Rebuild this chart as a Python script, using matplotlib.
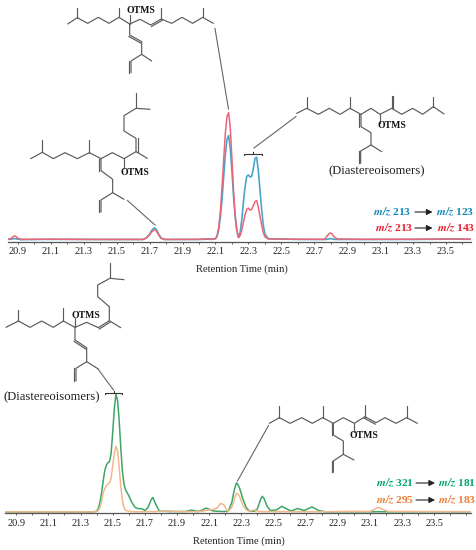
import numpy as np
import matplotlib
matplotlib.use('Agg')
import matplotlib.pyplot as plt

W, H = 477, 550
SERIF = ['Liberation Serif', 'DejaVu Serif']

# top chromatogram, heights as % of the largest peak
top_time = [20.84, 20.86, 20.87, 20.88, 20.89, 20.90, 20.92, 21.10, 21.40, 21.66, 21.68, 21.70, 21.71, 21.72,
            21.73, 21.74, 21.75, 21.76, 21.77, 21.79, 22.00, 22.05, 22.08, 22.10, 22.11, 22.12, 22.13, 22.14,
            22.15, 22.16, 22.17, 22.18, 22.19, 22.20, 22.21, 22.22, 22.23, 22.24, 22.25, 22.26, 22.27, 22.28,
            22.29, 22.30, 22.31, 22.32, 22.33, 22.34, 22.35, 22.36, 22.37, 22.38, 22.39, 22.40, 22.42, 22.60,
            22.76, 22.77, 22.78, 22.79, 22.80, 22.81, 22.82, 22.84, 23.00, 23.30, 23.55, 23.65]
blue_top = [0.5, 0.6, 0.9, 1.0, 0.9, 0.6, 0.3, 0.5, 0.4, 0.4, 1.5, 4.5, 7.0, 8.5,
            9.5, 8.5, 6.0, 3.5, 1.5, 0.4, 0.4, 0.6, 0.5, 1.0, 3.0, 8.5, 18, 32,
            50, 67, 79, 82, 72, 54, 34, 18, 7.0, 2.0, 6.0, 16, 30, 42,
            50, 51, 49.5, 50, 56, 64, 65, 55, 40, 25, 12, 5.0, 1.0, 0.4,
            0.4, 0.4, 0.6, 0.9, 1.0, 0.8, 0.5, 0.4, 0.4, 0.4, 0.7, 0.5]
red_top = [0.5, 1.2, 2.5, 3.2, 2.6, 1.3, 0.5, 0.6, 0.4, 0.4, 1.5, 4.0, 6.0, 7.0,
           8.0, 7.2, 5.0, 3.0, 1.3, 0.4, 0.5, 0.9, 0.7, 1.0, 3.0, 10, 23, 42,
           63, 84, 97, 100, 88, 64, 38, 19, 7.5, 1.8, 3.5, 8.0, 14, 20,
           24, 25, 23.5, 24, 27, 30, 31, 26, 19, 12, 6.0, 2.5, 0.8, 0.6,
           0.5, 1.5, 3.5, 5.0, 5.5, 4.5, 2.5, 0.8, 0.5, 0.6, 0.8, 0.6]

# bottom chromatogram, heights as % of the largest peak
bottom_time = [20.83, 21.20, 21.38, 21.40, 21.41, 21.42, 21.43, 21.44, 21.45, 21.46, 21.47, 21.48, 21.49, 21.50,
               21.51, 21.52, 21.53, 21.54, 21.55, 21.56, 21.57, 21.58, 21.60, 21.62, 21.64, 21.66, 21.68, 21.70,
               21.72, 21.74, 21.75, 21.77, 21.79, 21.85, 21.95, 21.99, 22.03, 22.06, 22.08, 22.10, 22.12, 22.15,
               22.17, 22.19, 22.21, 22.22, 22.24, 22.25, 22.26, 22.27, 22.28, 22.29, 22.31, 22.33, 22.35, 22.38,
               22.40, 22.42, 22.43, 22.44, 22.46, 22.48, 22.52, 22.55, 22.58, 22.61, 22.65, 22.69, 22.74, 22.78,
               22.82, 22.98, 23.10, 23.13, 23.15, 23.18, 23.21, 23.35, 23.72]
green_bot = [0.3, 0.3, 0.3, 1.0, 3.0, 8.0, 16, 26, 35, 40, 42, 43, 50, 68,
             88, 100, 95, 78, 55, 35, 24, 19, 14, 8.0, 4.0, 3.0, 3.0, 1.5,
             4.0, 11, 12.5, 6.0, 1.0, 0.6, 0.6, 1.8, 0.6, 2.0, 3.5, 2.5, 1.2, 0.8,
             0.7, 0.6, 0.6, 1.5, 8.0, 15, 21, 25, 23, 20, 11, 4.0, 1.0, 0.8,
             3.0, 11, 13.5, 12, 5.0, 1.5, 2.0, 5.0, 3.0, 1.0, 3.2, 1.5, 4.5, 1.5,
             0.4, 0.4, 0.4, 0.4, 0.5, 0.4, 0.4, 0.4, 0.4]
orange_bot = [0.3, 0.3, 0.3, 0.6, 1.5, 4.0, 9.0, 16, 20, 22, 24, 25, 29, 40,
              50, 56, 52, 38, 22, 10, 4.0, 1.5, 0.8, 0.5, 0.4, 0.4, 0.4, 0.4,
              0.6, 0.6, 0.5, 0.5, 0.8, 1.0, 0.5, 0.5, 0.5, 1.0, 1.5, 2.0, 2.2, 3.5,
              7.5, 6.5, 1.5, 1.0, 4.0, 8.0, 13, 16, 15.5, 13, 6.0, 2.0, 0.8, 2.0,
              1.0, 0.5, 0.5, 0.5, 0.5, 0.5, 0.5, 0.5, 0.5, 0.4, 0.4, 0.4, 0.4, 0.4,
              0.4, 0.8, 0.7, 2.5, 4.3, 2.5, 0.8, 0.6, 0.5]

tick_labels = ['20.9', '21.1', '21.3', '21.5', '21.7', '21.9', '22.1', '22.3', '22.5',
               '22.7', '22.9', '23.1', '23.3', '23.5']
tick_values = [float(t) for t in tick_labels]


# structure sketches, in reference pixels x3
mol_top = [[(203, 72), (232, 53), (263, 70), (295, 52), (327, 70), (357, 52), (389, 72), (420, 58), (452, 75),
            (484, 57), (515, 70), (546, 52), (578, 70), (608, 52), (640, 70)],
           [(232, 53), (232, 25)], [(357, 52), (357, 25)], [(484, 57), (484, 25)], [(608, 52), (608, 25)],
           [(389, 72), (389, 45)],
           [(389, 72), (389, 105), (425, 125), (425, 163), (455, 183)],
           [(425, 163), (393, 183), (393, 218)]]
mol_top_dbl = [[(452, 75), (484, 57)], [(389, 105), (425, 125)], [(393, 183), (393, 218)]]

mol_left = [[(92, 476), (127, 457), (160, 476), (195, 458), (232, 476), (268, 458), (303, 476), (337, 458),
             (372, 476), (408, 455), (442, 475)],
            [(127, 457), (127, 420)], [(268, 458), (268, 420)],
            [(408, 455), (408, 415), (372, 393), (372, 347), (408, 325), (450, 328)],
            [(408, 325), (408, 280)], [(372, 476), (372, 505)],
            [(303, 476), (303, 512), (338, 538), (338, 578), (372, 598)],
            [(338, 578), (303, 600), (303, 636)]]
mol_left_dbl = [[(408, 455), (408, 415)], [(303, 476), (303, 512)], [(303, 600), (303, 636)]]

mol_right = [[(890, 340), (920, 325), (955, 343), (988, 325), (1020, 343), (1050, 325), (1083, 343), (1113, 325),
              (1140, 343), (1175, 325), (1205, 343), (1238, 325), (1268, 343), (1300, 320), (1332, 342)],
             [(920, 325), (920, 290)], [(1050, 325), (1050, 290)], [(1175, 325), (1175, 288)],
             [(1300, 320), (1300, 290)], [(1140, 343), (1140, 368)],
             [(1083, 343), (1083, 380), (1113, 398), (1113, 435), (1145, 455)],
             [(1113, 435), (1082, 453), (1082, 490)]]
mol_right_dbl = [[(1175, 325), (1175, 288)], [(1083, 343), (1083, 380)], [(1082, 453), (1082, 490)]]

# the lower two are measured from y=275
mol_low = [[(18, 157), (55, 138), (90, 157), (125, 138), (160, 157), (190, 138), (225, 157), (260, 142), (295, 158),
            (328, 137), (362, 158)],
           [(55, 138), (55, 105)], [(190, 138), (190, 100)], [(225, 157), (225, 130)],
           [(328, 137), (328, 95), (293, 65), (293, 30), (330, 10), (372, 14)], [(330, 10), (330, -35)],
           [(225, 157), (225, 195), (260, 218), (260, 260), (295, 282)],
           [(260, 260), (228, 280), (228, 318)]]
mol_low_dbl = [[(295, 158), (328, 137)], [(225, 195), (260, 218)], [(228, 280), (228, 318)]]

mol_low_right = [[(808, 445), (838, 428), (870, 445), (905, 428), (937, 445), (968, 428), (1000, 445), (1030, 428),
                  (1063, 445), (1095, 425), (1128, 443), (1155, 428), (1188, 445), (1220, 428), (1252, 445)],
                 [(838, 428), (838, 392)], [(968, 428), (968, 392)], [(1095, 425), (1095, 390)],
                 [(1220, 428), (1220, 392)], [(1063, 445), (1063, 470)],
                 [(1000, 445), (1000, 480), (1030, 498), (1030, 538), (1062, 555)],
                 [(1030, 538), (1000, 558), (1000, 592)]]
mol_low_right_dbl = [[(1095, 425), (1128, 443)], [(1000, 445), (1000, 480)], [(1000, 558), (1000, 592)]]


def make_chart(fig, left, right, base, top, xlim, ylim):
    ax = fig.add_axes([left / W, 1 - base / H, (right - left) / W, (base - top) / H])
    ax.patch.set_alpha(0)
    for side in ['top', 'left', 'right']:
        ax.spines[side].set_visible(False)
    ax.spines['bottom'].set_color('#555555')
    ax.spines['bottom'].set_linewidth(0.9)
    ax.set_yticks([])
    ax.set_xticks(tick_values)
    ax.set_xticklabels(tick_labels, family=SERIF, fontsize=7.4, color='#222222')
    ax.set_xticks(np.arange(20.9, 23.7, 0.1), minor=True)
    ax.tick_params(axis='x', which='both', length=1.5, width=0.7, color='#555555', pad=2.5)
    # after the ticks, they would widen the view otherwise
    ax.set_xlim(*xlim)
    ax.set_ylim(*ylim)
    return ax


def draw_mol(ax, lines, doubles, dy=0):
    for line in lines:
        xs = [p[0] / 3 for p in line]
        ys = [p[1] / 3 + dy for p in line]
        ax.plot(xs, ys, color='#5a5a5a', lw=0.85, solid_capstyle='round')
    # second stroke of the double bonds
    for (x0, y0), (x1, y1) in doubles:
        dx, dyy = x1 - x0, y1 - y0
        n = np.hypot(dx, dyy)
        ox, oy = -dyy / n * 5, dx / n * 5
        ax.plot([(x0 + ox) / 3, (x1 + ox) / 3], [(y0 + oy) / 3 + dy, (y1 + oy) / 3 + dy],
                color='#5a5a5a', lw=0.85)


def bracket(ax, x0, x1, y):
    ax.plot([x0, x0, x1, x1], [y + 1.5, y, y, y + 1.5], color='#333333', lw=0.8)
    ax.plot([(x0 + x1) / 2] * 2, [y, y - 1.5], color='#333333', lw=0.8)


def transition(ax, x_a, x_b, x_c, x_d, y, a, b, col):
    for x, val in [(x_a, a), (x_c, b)]:
        ax.text(x, y, r'$\mathbfit{m/z}$ ' + val, color=col, fontsize=8.2, fontweight='bold',
                family=SERIF, math_fontfamily='stix', ha='left', va='center')
    ax.annotate('', xy=(x_d, y), xytext=(x_b, y),
                arrowprops=dict(arrowstyle='-|>,head_length=0.35,head_width=0.18', color='#222222', lw=0.8,
                                shrinkA=0, shrinkB=0))


def main():
    fig = plt.figure(figsize=(W / 100, H / 100), dpi=100)

    ax_top = make_chart(fig, 8, 471, 241.5, 105, (20.84, 23.652), (-1.2, 106))
    ax_top.plot(top_time, blue_top, color='#4aa6c9', lw=1.2)
    ax_top.plot(top_time, red_top, color='#ec6577', lw=1.1)

    ax_bot = make_chart(fig, 5, 471, 513.3, 385, (20.83, 23.728), (-0.9, 108))
    ax_bot.plot(bottom_time, green_bot, color='#3fa566', lw=1.1)
    ax_bot.plot(bottom_time, orange_bot, color='#f0b98c', lw=1.1)

    # overlay in reference pixels for the structures and labels
    ov = fig.add_axes([0, 0, 1, 1])
    ov.set_xlim(0, W)
    ov.set_ylim(H, 0)
    ov.axis('off')
    ov.patch.set_alpha(0)

    draw_mol(ov, mol_top, mol_top_dbl)
    draw_mol(ov, mol_left, mol_left_dbl)
    draw_mol(ov, mol_right, mol_right_dbl)
    draw_mol(ov, mol_low, mol_low_dbl, dy=275)
    draw_mol(ov, mol_low_right, mol_low_right_dbl, dy=275)

    # leader lines
    for (x0, y0), (x1, y1) in [((215, 28.5), (228.5, 109)), ((127.5, 200.5), (155, 225)),
                               ((296, 116.5), (254, 148)), ((98, 369), (113.5, 390)),
                               ((268.5, 425.5), (237.5, 481))]:
        ov.plot([x0, x1], [y0, y1], color='#666666', lw=0.8)
    bracket(ov, 244.5, 262.5, 153.5)
    bracket(ov, 105, 122.5, 392.5)

    for x, y, s in [(140.5, 10.5, 'OTMS'), (135, 172.5, 'OTMS'), (391.5, 126, 'OTMS'),
                    (85.5, 315, 'OTMS'), (364, 435, 'OTMS')]:
        ov.text(x, y, s, family=SERIF, fontsize=7, fontweight='bold', color='#111111', ha='center', va='center')

    ov.text(376.5, 171, '(Diastereoisomers)', family=SERIF, fontsize=9.1, color='#222222', ha='center', va='center')
    ov.text(52, 397.5, '(Diastereoisomers)', family=SERIF, fontsize=9.1, color='#222222', ha='center', va='center')

    ov.text(242, 269, 'Retention Time (min)', family=SERIF, fontsize=7.6, color='#222222', ha='center', va='center')
    ov.text(239, 541.5, 'Retention Time (min)', family=SERIF, fontsize=7.6, color='#222222', ha='center', va='center')

    transition(ov, 373.5, 415, 436.5, 432.5, 212, '213', '123', '#0f87ba')
    transition(ov, 375, 415, 437, 432.5, 228, '213', '143', '#ee1c2e')
    transition(ov, 376.5, 416, 438.5, 435, 483, '321', '181', '#00a56a')
    transition(ov, 376.5, 416, 438.5, 435, 500, '295', '183', '#ee7d31')

    fig.savefig('out.png', dpi=100)


if __name__ == '__main__':
    main()
